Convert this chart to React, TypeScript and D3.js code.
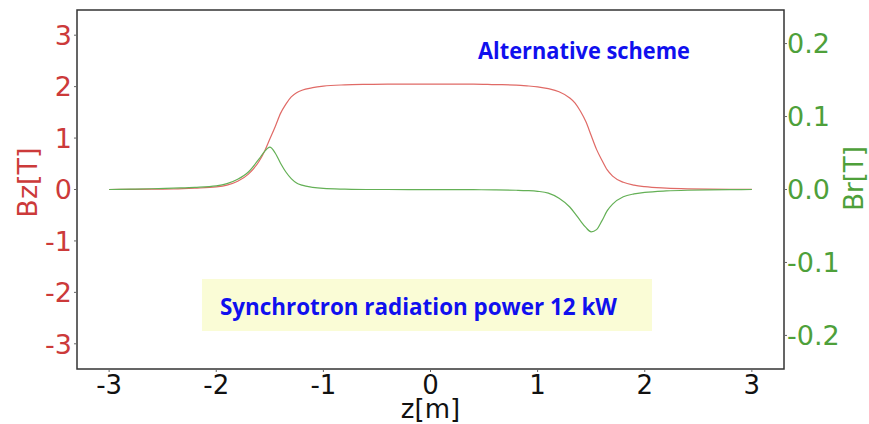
import React, { useEffect, useRef } from "react";
import * as d3 from "d3";

// field profile along z
const zPos = [-3, -2.8, -2.6, -2.4, -2.2, -2.0, -1.9, -1.8, -1.7, -1.6, -1.55, -1.5, -1.45, -1.4, -1.35, -1.3, -1.25, -1.2, -1.1, -1.0, -0.8, -0.6, -0.4, -0.2, 0, 0.2, 0.4, 0.6, 0.8, 0.9, 1.0, 1.1, 1.2, 1.3, 1.35, 1.4, 1.45, 1.5, 1.55, 1.6, 1.65, 1.7, 1.8, 1.9, 2.0, 2.2, 2.4, 2.6, 2.8, 3.0];
const bzValues = [0, 0.003, 0.006, 0.01, 0.025, 0.05, 0.085, 0.16, 0.3, 0.55, 0.74, 0.98, 1.22, 1.48, 1.66, 1.8, 1.88, 1.93, 1.98, 2.01, 2.035, 2.045, 2.05, 2.05, 2.05, 2.05, 2.05, 2.04, 2.03, 2.015, 1.995, 1.96, 1.9, 1.78, 1.68, 1.52, 1.32, 1.05, 0.78, 0.57, 0.38, 0.26, 0.14, 0.085, 0.055, 0.028, 0.014, 0.007, 0.003, 0.001];
const brValues = [0, 0.0005, 0.001, 0.002, 0.003, 0.005, 0.008, 0.014, 0.024, 0.042, 0.052, 0.058, 0.05, 0.036, 0.024, 0.015, 0.009, 0.006, 0.003, 0.0015, 0.0005, 0, 0, -0.0002, -0.0003, -0.0003, -0.0003, -0.0005, -0.001, -0.0015, -0.0025, -0.005, -0.012, -0.024, -0.033, -0.043, -0.052, -0.058, -0.055, -0.043, -0.029, -0.02, -0.01, -0.006, -0.004, -0.002, -0.001, -0.0005, -0.0002, 0];

const xTicks = [-3, -2, -1, 0, 1, 2, 3];
const bzTicks = [-3, -2, -1, 0, 1, 2, 3];
const brTicks = [-0.2, -0.1, 0, 0.1, 0.2];

const W = 869;
const H = 424;
const margin = { top: 10, right: 85, bottom: 55, left: 77 };

const RED = "#cc3a3a";
const GREEN = "#4ea03a";

export default function App() {
  const svgRef = useRef<SVGSVGElement>(null);

  useEffect(() => {
    document.body.style.margin = "0";
    const svg = d3.select(svgRef.current);
    svg.selectAll("*").remove();

    const x0 = margin.left, x1 = W - margin.right;
    const y0 = margin.top, y1 = H - margin.bottom;

    const xScale = d3.scaleLinear().domain([-3.3, 3.3]).range([x0, x1]);
    const yLeft = d3.scaleLinear().domain([-3.49, 3.49]).range([y1, y0]);
    const yRight = d3.scaleLinear().domain([-0.246, 0.246]).range([y1, y0]);

    const font = "'DejaVu Sans', Verdana, sans-serif";

    // curves
    const pts = zPos.map((z, i) => ({ z, bz: bzValues[i], br: brValues[i] }));
    const bzLine = d3.line<any>().x(d => xScale(d.z)).y(d => yLeft(d.bz)).curve(d3.curveMonotoneX);
    const brLine = d3.line<any>().x(d => xScale(d.z)).y(d => yRight(d.br)).curve(d3.curveMonotoneX);

    // note box
    svg.append("rect")
      .attr("x", 202).attr("y", 279).attr("width", 450).attr("height", 52)
      .attr("fill", "#fafcd6");

    svg.append("path").datum(pts)
      .attr("d", bzLine)
      .attr("fill", "none")
      .attr("stroke", "#e06a66")
      .attr("stroke-width", 1.2);

    svg.append("path").datum(pts)
      .attr("d", brLine)
      .attr("fill", "none")
      .attr("stroke", "#64b056")
      .attr("stroke-width", 1.2);

    // frame
    svg.append("rect")
      .attr("x", x0).attr("y", y0)
      .attr("width", x1 - x0).attr("height", y1 - y0)
      .attr("fill", "none")
      .attr("stroke", "#333")
      .attr("stroke-width", 1.5);

    // x axis
    const xAxis = svg.append("g");
    xTicks.forEach(t => {
      xAxis.append("line")
        .attr("x1", xScale(t)).attr("x2", xScale(t))
        .attr("y1", y1).attr("y2", y1 + 3)
        .attr("stroke", "#666");
      xAxis.append("text")
        .attr("x", xScale(t)).attr("y", 394)
        .attr("text-anchor", "middle")
        .style("font-family", font).style("font-size", "26px")
        .attr("fill", "#111")
        .text(t);
    });
    svg.append("text")
      .attr("x", xScale(0)).attr("y", 418)
      .attr("text-anchor", "middle")
      .style("font-family", font).style("font-size", "26px")
      .attr("fill", "#111")
      .text("z[m]");

    // left axis (Bz)
    bzTicks.forEach(t => {
      svg.append("line")
        .attr("x1", x0 - 3).attr("x2", x0)
        .attr("y1", yLeft(t)).attr("y2", yLeft(t))
        .attr("stroke", "#666");
      svg.append("text")
        .attr("x", x0 - 5).attr("y", yLeft(t))
        .attr("dy", "0.36em")
        .attr("text-anchor", "end")
        .style("font-family", font).style("font-size", "27px")
        .attr("fill", RED)
        .text(t);
    });
    svg.append("text")
      .attr("transform", `translate(37, ${yLeft(0) - 7}) rotate(-90)`)
      .attr("text-anchor", "middle")
      .style("font-family", font).style("font-size", "27px")
      .attr("fill", RED)
      .text("Bz[T]");

    // right axis (Br)
    brTicks.forEach(t => {
      svg.append("line")
        .attr("x1", x1).attr("x2", x1 + 3)
        .attr("y1", yRight(t)).attr("y2", yRight(t))
        .attr("stroke", "#666");
      svg.append("text")
        .attr("x", x1 + 3).attr("y", yRight(t))
        .attr("dy", "0.36em")
        .style("font-family", font).style("font-size", "27px")
        .attr("fill", GREEN)
        .text(d3.format(".1f")(t).replace("−", "-"));
    });
    svg.append("text")
      .attr("transform", `translate(863, ${yRight(0) - 11}) rotate(-90)`)
      .attr("text-anchor", "middle")
      .style("font-family", font).style("font-size", "26px")
      .attr("fill", GREEN)
      .text("Br[T]");

    // annotations
    svg.append("text")
      .attr("x", 478).attr("y", 59)
      .attr("textLength", 212).attr("lengthAdjust", "spacingAndGlyphs")
      .style("font-family", "'Open Sans', sans-serif").style("font-size", "23px")
      .style("font-weight", "bold")
      .attr("fill", "#1010ee")
      .text("Alternative scheme");

    svg.append("text")
      .attr("x", 220).attr("y", 315)
      .attr("textLength", 397).attr("lengthAdjust", "spacingAndGlyphs")
      .style("font-family", "'Open Sans', sans-serif").style("font-size", "24px")
      .style("font-weight", "bold")
      .attr("fill", "#1010ee")
      .text("Synchrotron radiation power 12 kW");
  }, []);

  return (
    <svg ref={svgRef} width={W} height={H} style={{ display: "block", background: "#fff" }} />
  );
}
